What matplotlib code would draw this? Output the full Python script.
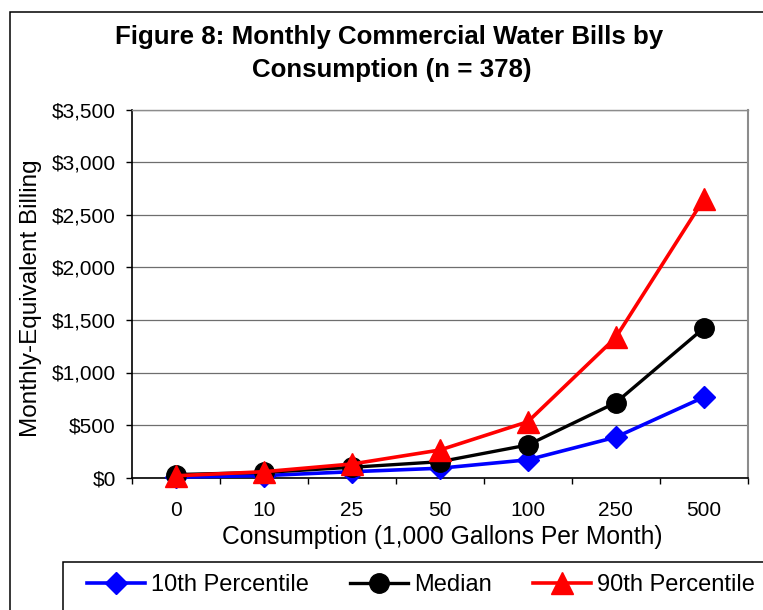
import numpy as np
import matplotlib
matplotlib.use("Agg")
import matplotlib.pyplot as plt
from matplotlib.patches import Rectangle
from matplotlib.ticker import FixedLocator

plt.rcParams['font.family'] = ['Liberation Sans', 'DejaVu Sans']

categories = ['0', '10', '25', '50', '100', '250', '500']
p10 = [5, 20, 57, 90, 170, 385, 765]
median = [30, 50, 99, 152, 311, 713, 1421]
p90 = [18, 57, 130, 263, 532, 1333, 2646]
yticks = [0, 500, 1000, 1500, 2000, 2500, 3000, 3500]

W, H = 763, 610
fig = plt.figure(figsize=(W / 100, H / 100), dpi=100)
ax = fig.add_axes([132 / W, 1 - 477.7 / H, 615.7 / W, 368.2 / H])

x = np.arange(len(categories))
ax.plot(x, p10, color='#0000ff', lw=2.6, marker='D', ms=11, label='10th Percentile', zorder=5, clip_on=False)
ax.plot(x, median, color='black', lw=2.4, marker='o', ms=14, label='Median', zorder=6, clip_on=False)
ax.plot(x, p90, color='#ff0000', lw=2.6, marker='^', ms=15.5, label='90th Percentile', zorder=7, clip_on=False)

ax.set_xlim(-0.5, len(categories) - 0.5)
ax.set_ylim(0, 3500)
ax.set_yticks(yticks)
ax.set_yticklabels(['${:,}'.format(v) for v in yticks], fontsize=15)

# category boundaries get the tick marks, labels sit in between
ax.xaxis.set_major_locator(FixedLocator(np.arange(-0.5, len(categories), 1.0)))
ax.xaxis.set_major_formatter(plt.NullFormatter())
ax.set_xticks(x, minor=True)
ax.set_xticklabels(categories, minor=True, fontsize=15)
ax.tick_params(axis='x', which='major', direction='out', length=4.5, width=1.0)
ax.tick_params(axis='x', which='minor', length=0, pad=17)
ax.tick_params(axis='y', direction='out', length=4.5, width=1.0, pad=7)

ax.grid(axis='y', color='#6e6e6e', lw=0.9)
ax.set_axisbelow(True)
ax.spines['left'].set_color('black')
ax.spines['left'].set_linewidth(1.2)
ax.spines['bottom'].set_color('black')
ax.spines['bottom'].set_linewidth(1.2)
ax.spines['top'].set_color('#8c8c8c')
ax.spines['top'].set_linewidth(1.0)
ax.spines['right'].set_color('#8c8c8c')
ax.spines['right'].set_linewidth(1.5)

fig.text(389 / W, 1 - 44.3 / H, 'Figure 8: Monthly Commercial Water Bills by',
         ha='center', va='baseline', fontsize=18.6, fontweight='bold')
fig.text(392 / W, 1 - 76.7 / H, 'Consumption (n = 378)',
         ha='center', va='baseline', fontsize=18.6, fontweight='bold')
fig.text(442.5 / W, 1 - 537 / H, 'Consumption (1,000 Gallons Per Month)',
         ha='center', va='center', fontsize=17.7)
fig.text(31.5 / W, 1 - 298 / H, 'Monthly-Equivalent Billing',
         ha='center', va='center', rotation=90, fontsize=17.5)

# outer chart frame and legend frame (both run off the right/bottom edge)
fig.patches.append(Rectangle((10 / W, -0.1), 1.2, 1.1 - 12 / H, transform=fig.transFigure,
                             fill=False, edgecolor='black', lw=1.1))
fig.patches.append(Rectangle((63 / W, -0.1), 1.2, 0.1 + 1 - 562 / H, transform=fig.transFigure,
                             fill=False, edgecolor='black', lw=1.1))

fig.legend(loc='center left', bbox_to_anchor=(87 / W, 1 - 585 / H), ncol=3, frameon=False,
           fontsize=17, handlelength=2.46, handletextpad=0.25, columnspacing=1.74,
           borderpad=0, borderaxespad=0)

fig.savefig('out.png', dpi=100)
